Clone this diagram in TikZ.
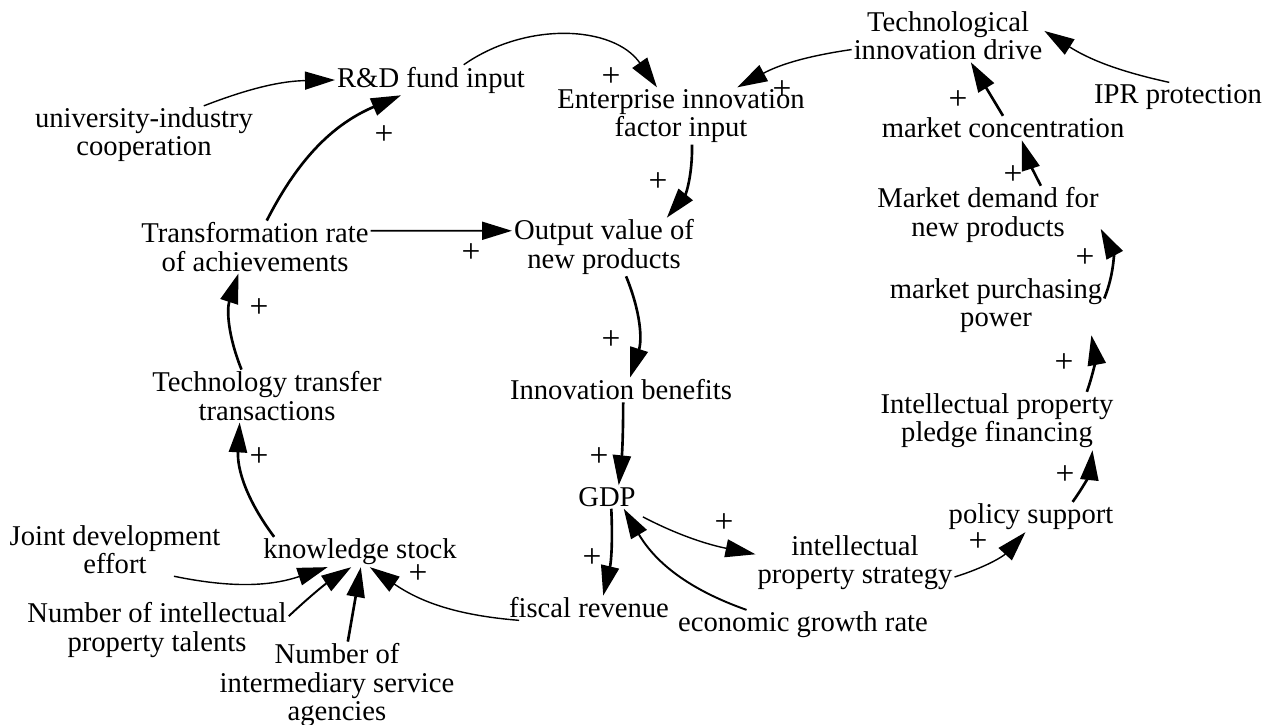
\documentclass[tikz,border=0pt]{standalone}
\usepackage{fontspec}
\setmainfont{Liberation Serif}
\usetikzlibrary{arrows.meta}

\begin{document}
\begin{tikzpicture}[x=0.02cm, y=0.02cm,
  lbl/.style={font=\fontsize{16.3}{16}\selectfont, align=center, inner sep=1pt},
  plus/.style={font=\fontsize{19}{19}\selectfont, inner sep=0pt},
  link/.style={line width=0.8pt, -{Triangle[length=0.6cm,width=0.36cm]}},
  heavy/.style={link, line width=1.5pt}]
\useasboundingbox (0,0) rectangle (1273,-724);

% variables
\node[lbl] (rd) at (431,-80) {R\&D fund input};
\node[lbl] (ui) at (144,-135) {university-industry\\cooperation};
\node[lbl] (ent) at (681,-116) {Enterprise innovation\\factor input};
\node[lbl] (tid) at (948,-36) {Technological\\innovation drive};
\node[lbl] (ipr) at (1178,-97) {IPR protection};
\node[lbl] (mc) at (1003,-128) {market concentration};
\node[lbl] (md) at (988,-215) {Market demand for\\new products};
\node[lbl] (mpp) at (996,-306) {market purchasing\\power};
\node[lbl] (ippf) at (997,-421) {Intellectual property\\pledge financing};
\node[lbl] (ps) at (1031,-517) {policy support};
\node[lbl] (ips) at (855,-563) {intellectual\\property strategy};
\node[lbl] (egr) at (803,-625) {economic growth rate};
\node[lbl] (fr) at (589,-608) {fiscal revenue};
\node[lbl] (gdp) at (607,-497) {GDP};
\node[lbl] (ib) at (621,-390) {Innovation benefits};
\node[lbl] (ov) at (604,-247) {Output value of\\new products};
\node[lbl] (tra) at (255,-247) {Transformation rate\\of achievements};
\node[lbl] (ttt) at (267,-396) {Technology transfer\\transactions};
\node[lbl] (jde) at (115,-550) {Joint development\\effort};
\node[lbl] (ks) at (360,-552) {knowledge stock};
\node[lbl] (nipt) at (157,-630) {Number of intellectual\\property talents};
\node[lbl] (nisa) at (337,-685) {Number of\\intermediary service\\agencies};

% causal links
\draw[link] (ui.26) to[bend left=10] (rd.west);
\draw[link] (rd.25) to[out=35, in=125] (ent.130);
\draw[link] (tid.188) to[bend right=10] (ent.27);
\draw[link] (ipr.121) to[bend left=10] (tid.3);
\draw[heavy] (mc.north) -- (tid.-49);
\draw[heavy] (md.29) to[bend left=5] (mc.-33);
\draw[heavy] (mpp.4) to[bend right=25] (md.-7);
\draw[heavy] (ippf.18) to[bend right=15] (mpp.-17);
\draw[heavy] (ps.20) to[bend right=15] (ippf.-17);
\draw[link] (ips.-8) to[bend right=15] (ps.-110);
\draw[link, shorten <=10pt] (gdp.-30) to[bend right=8] (ips.175);
\draw[link, line width=1.1pt] (egr.165) to[bend left=20] (gdp.-35);
\draw[heavy] (gdp.-70) to[bend left=8] (fr.41);
\draw[heavy] (ib.-80) to[bend left=3] (gdp.45);
\draw[heavy] (ov.-53) to[bend left=20] (ib.54);
\draw[heavy] (ent.-69) to[bend left=20] (ov.25);
\draw[link, line width=1.1pt] (tra.8) -- (ov.170);
\draw[heavy] (tra.66) to[bend left=20] (rd.-153);
\draw[heavy] (ttt.134) to[bend left=20] (tra.-122);
\draw[heavy] (ks.170) to[bend left=20] (ttt.-136);
\draw[link] (jde.-24) to[bend right=15] (ks.-155);
\draw[link, line width=1.1pt] (nipt.6) to[bend left=5] (ks.-120);
\draw[heavy] (nisa.76) -- (ks.-87);
\draw[link] (fr.190) to[bend left=15] (ks.-57);

% polarity signs
\foreach \x/\y [count=\i] in {611/77, 384/135, 782/90, 958/100, 1013/175,
  658/182, 471/253, 1085/258, 259/308, 611/340, 1064/363, 259/457,
  599/457, 1065/475, 724/523, 978/542, 592/558, 418/574}
  \node[plus] (plus\i) at (\x,-\y) {+};
\end{tikzpicture}
\end{document}
